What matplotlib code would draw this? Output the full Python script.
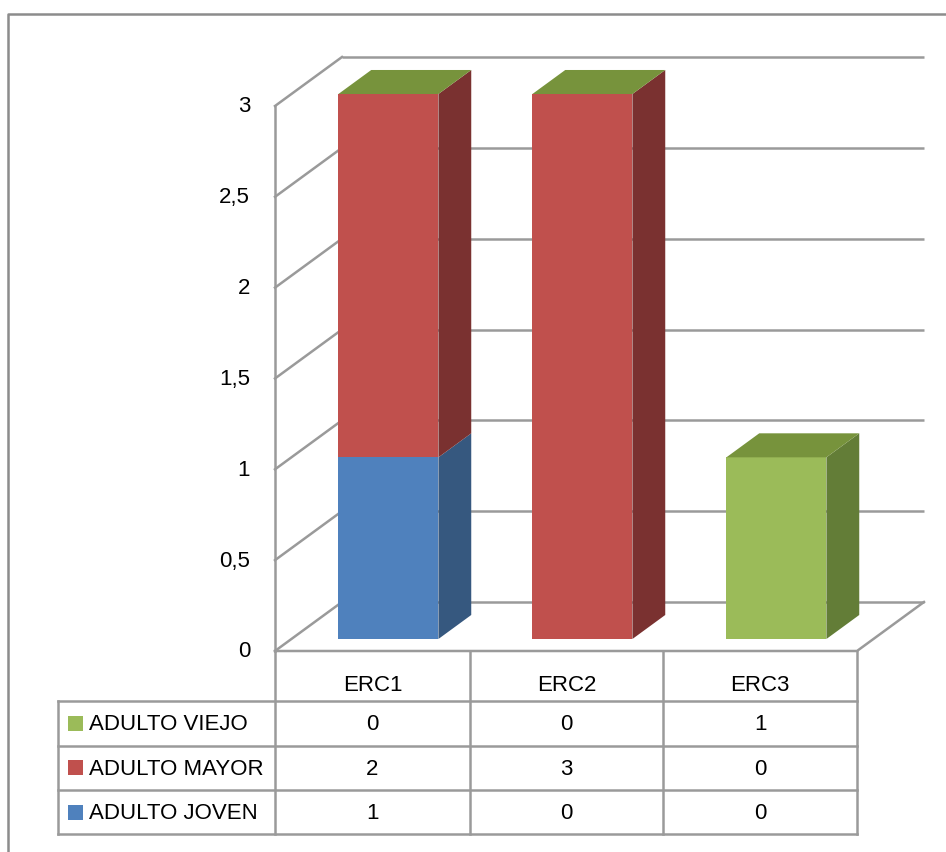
import matplotlib
matplotlib.use("Agg")
import matplotlib.pyplot as plt
from matplotlib.patches import Polygon, Rectangle
from matplotlib.transforms import Affine2D
import numpy as np

plt.rcParams['font.family'] = ['Liberation Sans', 'DejaVu Sans']

# ---- data ----
categories = ["ERC1", "ERC2", "ERC3"]
series_names = ["ADULTO JOVEN", "ADULTO MAYOR", "ADULTO VIEJO"]
adulto_joven = [1, 0, 0]
adulto_mayor = [2, 3, 0]
adulto_viejo = [0, 0, 1]
series_values = [adulto_joven, adulto_mayor, adulto_viejo]
y_ticks = [0, 0.5, 1, 1.5, 2, 2.5, 3]
y_tick_labels = ["0", "0,5", "1", "1,5", "2", "2,5", "3"]

front_colors = ["#4F81BD", "#C0504D", "#9BBB59"]
side_colors = ["#36587F", "#7A3130", "#637D37"]
top_colors = ["#3E6699", "#9A3D3B", "#77933C"]
line_col = "#9A9A9A"
FS = 16
LW = 1.8

W, H = 946, 853
fig = plt.figure(figsize=(W / 100, H / 100), dpi=100)
ax = fig.add_axes([0, 0, 1, 1])
ax.set_axis_off()

# plot geometry: one category = 194 px, one value unit = 181.67 px
px_per_cat = 194.0
px_per_val = 545.0 / 3
x_origin_px = 372.0      # centre of first category on the front plane
y_origin_px = 652.0      # value 0 on the front plane
ax.set_xlim(-x_origin_px / px_per_cat, (W - x_origin_px) / px_per_cat)
ax.set_ylim(-(H - y_origin_px) / px_per_val, y_origin_px / px_per_val)

# oblique depth vector (full floor depth) in data units
depth = np.array([67 / px_per_cat, 49 / px_per_val])

# pixel transform (origin at top-left) for frame and table layout
pix = Affine2D().scale(1 / W, -1 / H).translate(0, 1) + fig.transFigure

n = len(categories)
x_left, x_right = -0.5, n - 0.5
vmax = max(y_ticks)

def off(pt, z):
    return (pt[0] + depth[0] * z, pt[1] + depth[1] * z)

# back wall gridlines and left wall
for v in y_ticks:
    a = off((x_left, v), 1)
    b = off((x_right, v), 1)
    ax.plot([a[0], b[0]], [a[1], b[1]], color=line_col, lw=LW, zorder=1,
            solid_capstyle='butt')
    c = (x_left, v)
    ax.plot([c[0], a[0]], [c[1], a[1]], color=line_col, lw=LW, zorder=1)
ax.plot([x_left, x_left], [0, vmax], color=line_col, lw=LW, zorder=1)
# floor front and right edges
fr = off((x_right, 0), 1)
ax.plot([x_left, x_right, fr[0]], [0, 0, fr[1]], color=line_col, lw=LW,
        zorder=1)

# tick labels
for v, lab in zip(y_ticks, y_tick_labels):
    ax.text(x_left - 25 / px_per_cat, v, lab, ha='right', va='center',
            fontsize=FS, color='black')

# 3D stacked columns
bar_w = 100 / px_per_cat
z0, z1 = 0.245, 0.735
for i in range(n):
    x0, x1 = i - bar_w / 2, i + bar_w / 2
    bottom = 0.0
    for s, vals in enumerate(series_values):
        h = vals[i]
        if h > 0:
            b, t = bottom, bottom + h
            front = [off((x0, b), z0), off((x1, b), z0),
                     off((x1, t), z0), off((x0, t), z0)]
            side = [off((x1, b), z0), off((x1, b), z1),
                    off((x1, t), z1), off((x1, t), z0)]
            ax.add_patch(Polygon(side, closed=True, fc=side_colors[s],
                                 ec='none', zorder=3))
            ax.add_patch(Polygon(front, closed=True, fc=front_colors[s],
                                 ec='none', zorder=4))
        bottom += h
    top = bottom
    s = len(series_values) - 1
    top_face = [off((x0, top), z0), off((x1, top), z0),
                off((x1, top), z1), off((x0, top), z1)]
    ax.add_patch(Polygon(top_face, closed=True, fc=top_colors[s], ec='none',
                         zorder=5))

# outer frame
ax.plot([8, 8, W], [H, 15, 15], color="#8C8C8C", lw=LW, transform=pix,
        zorder=1)

# data table
col_x = [275, 470, 663, 857]
table_left = 58
header_top, row_top = 652, 702
row_h = 44.5
n_rows = len(series_values)
row_edges = [row_top + k * row_h for k in range(n_rows + 1)]
tkw = dict(color=line_col, lw=LW, transform=pix, zorder=2)
for cx in col_x:
    ax.plot([cx, cx], [header_top, row_edges[-1]], **tkw)
ax.plot([table_left, table_left], [row_top, row_edges[-1]], **tkw)
for ry in row_edges:
    ax.plot([table_left, col_x[-1]], [ry, ry], **tkw)

for j, cat in enumerate(categories):
    cx = (col_x[j] + col_x[j + 1]) / 2
    ax.text(cx, 686, cat, ha='center', va='center', fontsize=FS,
            transform=pix)

# rows listed top to bottom: last series first
for r, s in enumerate(reversed(range(len(series_values)))):
    cy = row_edges[r] + row_h / 2
    ax.add_patch(Rectangle((68, cy - 7.5), 15, 15, fc=front_colors[s],
                           ec='none', transform=pix, zorder=3))
    ax.text(89, cy + 0.5, series_names[s], ha='left', va='center',
            fontsize=FS, transform=pix)
    for j in range(n):
        cx = (col_x[j] + col_x[j + 1]) / 2
        ax.text(cx, cy + 0.5, str(series_values[s][j]), ha='center',
                va='center', fontsize=FS, transform=pix)

fig.savefig("out.png", dpi=100)
